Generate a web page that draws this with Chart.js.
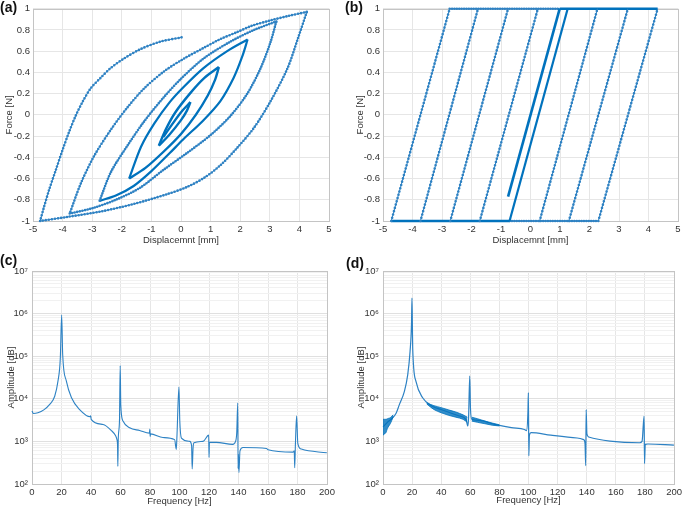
<!DOCTYPE html>
<html>
<head>
<meta charset="utf-8">
<script src="https://cdn.jsdelivr.net/npm/chart.js@4.4.0/dist/chart.umd.min.js"></script>
<style>
  body { margin:0; background:#fff; width:685px; height:509px; position:relative; overflow:hidden; }
  canvas { position:absolute; }
  .tag { position:absolute; font:bold 14px "Liberation Sans", Arial, sans-serif; color:#111; }
</style>
</head>
<body>
<canvas id="chartA" width="340" height="250" style="left:0;top:0"></canvas>
<canvas id="chartB" width="345" height="250" style="left:340px;top:0"></canvas>
<canvas id="chartC" width="340" height="259" style="left:0;top:250px"></canvas>
<canvas id="chartD" width="345" height="259" style="left:340px;top:250px"></canvas>
<div class="tag" style="left:0;top:-1px">(a)</div>
<div class="tag" style="left:345px;top:-1px">(b)</div>
<div class="tag" style="left:0;top:252px">(c)</div>
<div class="tag" style="left:346px;top:255px">(d)</div>
<script>
// ---- (a) hysteresis branches [displacement mm, force N]
const aStart = [[0.02,0.73],[-0.69,0.69],[-1.36,0.62],[-1.93,0.53],[-2.38,0.44],[-2.71,0.35],[-3.05,0.25],[-3.33,0.12],[-3.56,-0.01],[-3.78,-0.16],[-4.0,-0.33],[-4.23,-0.52],[-4.46,-0.71],[-4.63,-0.87],[-4.76,-1.0]];
const aLoop1Up = [[-4.76,-1.0],[-3.8,-0.96],[-2.7,-0.91],[-1.6,-0.84],[-0.5,-0.75],[0.2,-0.68],[0.8,-0.59],[1.35,-0.47],[1.9,-0.31],[2.47,-0.12],[3.03,0.13],[3.6,0.44],[3.95,0.72],[4.25,0.97]];
const aLoop1Down = [[4.25,0.97],[3.6,0.93],[3.03,0.89],[2.4,0.84],[1.9,0.78],[1.3,0.71],[0.76,0.63],[0.1,0.53],[-0.57,0.41],[-1.24,0.25],[-1.81,0.07],[-2.37,-0.14],[-2.94,-0.39],[-3.39,-0.65],[-3.76,-0.93]];
const aLoop2Up = [[-3.76,-0.93],[-3.0,-0.88],[-2.2,-0.8],[-1.4,-0.69],[-0.6,-0.52],[0.2,-0.36],[1.0,-0.19],[1.67,-0.01],[2.24,0.2],[2.69,0.44],[3.03,0.69],[3.22,0.88]];
const aLoop2Down = [[3.22,0.88],[2.47,0.8],[1.67,0.69],[0.76,0.53],[0.0,0.34],[-0.6,0.16],[-1.24,-0.06],[-1.81,-0.29],[-2.37,-0.54],[-2.75,-0.81]];
const aLoop3Up = [[-2.75,-0.81],[-2.2,-0.76],[-1.6,-0.67],[-1.0,-0.53],[-0.38,-0.36],[0.08,-0.23],[0.76,-0.05],[1.33,0.13],[1.78,0.35],[2.07,0.55],[2.25,0.71]];
const aLoop3Down = [[2.25,0.71],[1.56,0.6],[0.76,0.44],[0.08,0.26],[-0.38,0.12],[-0.9,-0.08],[-1.35,-0.3],[-1.75,-0.6]];
const aLoop4Up = [[-1.75,-0.6],[-1.2,-0.5],[-0.6,-0.35],[0.0,-0.18],[0.5,0.0],[0.9,0.18],[1.15,0.33],[1.28,0.45]];
const aLoop4Down = [[1.28,0.45],[0.8,0.35],[0.3,0.2],[-0.2,0.02],[-0.5,-0.13],[-0.75,-0.29]];
const aLoop5Up = [[-0.75,-0.29],[-0.4,-0.19],[0.0,-0.05],[0.2,0.04],[0.32,0.12]];
const aLoop5Down = [[0.32,0.12],[0.05,0.04],[-0.3,-0.09],[-0.6,-0.21]];

// ---- (b) elasto-plastic loops
const bBottomX = [-4.72,-3.73,-2.72,-1.72,-0.71,0.31,1.30,2.30];
const bTopX = [-2.74,-1.78,-0.76,0.25,1.26,2.27,3.30,4.31];
const bStartLine = [[-0.76,-0.77],[0.99,1.0]];
const bTopRun = [-2.74,0.99,4.31];
const bBottomRun = [-4.72,-0.71,2.30];

// ---- (c) spectrum
const cFreq = [0,1,4,8,12,15.4,17.6,19.2,20.1,20.8,23.3,26.7,32.3,39.5,39.8,40.1,48.2,53.8,56.7,57.6,58.0,58.2,58.5,59.3,59.8,60.2,61.7,66.2,73,79.6,79.9,80.1,80.4,88.8,96.7,97.8,98.3,99.6,100.2,101.3,107,108.2,108.6,109.2,109.8,116,119.8,120,120.3,125,136,138,138.8,139.5,139.7,140.0,140.3,141,143,159,160,177,177.8,178.1,178.6,179.4,180.2,182.6,199.9];
const cAmp = [5200,4500,4700,5500,7400,11500,26000,90000,920000,110000,26000,10700,5600,3800,4000,3300,2500,1800,1350,1100,800,260,1200,3000,60000,7000,3000,2100,1800,1560,1950,1300,1500,1230,1100,650,1400,19000,3000,1200,1000,800,225,700,930,1000,1400,420,950,950,850,1000,1600,8000,230,500,186,600,720,680,640,560,600,240,900,4000,900,660,540];

// ---- (d) spectrum (centre line and fuzzy bands)
const dFreq = [0,3,6,9,11.3,14.7,17,18.6,19.6,19.9,20.2,20.4,22.6,27.1,33.9,40,46,52,57,58.3,58.8,59.6,60.1,61,66,76.9,88.2,97.2,98.6,99.6,99.9,100.2,100.6,101.7,115.3,133.4,137.9,138.8,139.3,139.6,140.1,141.3,156,176.3,178,179.4,179.7,180.2,182,199.9];
const dAmp = [2200,2800,3400,4600,7400,15000,37000,130000,600000,2300000,500000,156000,26000,10700,6700,5600,4700,4000,3300,2300,3600,34000,6000,3300,3100,2500,2100,1900,1800,5000,14000,460,1400,1600,1400,1200,1100,900,270,5600,1500,1270,1020,930,1000,3900,300,850,870,820];
const dBand1Freq = [0,1,2,3,4,5,6,7];
const dBand1Hi = [3300,3300,3300,3400,3500,3600,3900,4200];
const dBand1Lo = [1400,1500,1600,2000,2300,2600,3100,3800];
const dBand2Freq = [30,35,40,45,50,55,58];
const dBand2Hi = [8000,6900,6200,5500,4900,4200,3700];
const dBand2Lo = [7600,5600,4700,4100,3700,3300,2800];
const dBand3Freq = [61,65,70,75,80];
const dBand3Hi = [3700,3400,3000,2700,2450];
const dBand3Lo = [3000,2800,2600,2400,2300];

const ampDecades = [1e2,1e3,1e4,1e5,1e6,1e7];

const BLUE = '#0072bd';
const DOT = '#2f82c3';
const THIN = 'rgb(45,130,196)';
const GRID = '#e6e6e6';
const FONT = {family:'"Liberation Sans", Arial, sans-serif', size:9.5};
const TXT = '#333';
const SUP = '⁰¹²³⁴⁵⁶⁷⁸⁹';

function xy(list) { return list.map(p => ({x:p[0], y:p[1]})); }
function pairs(xs, ys) { return xs.map((x, i) => ({x:x, y:ys[i]})); }

function solid(pts, w) {
    return {data:xy(pts), showLine:true, borderColor:BLUE, borderWidth:w, pointRadius:0, tension:0.3, clip:6};
}
// thin line with round dots on top (marker look)
function dotted(pts, gap) {
    return [
        {data:xy(pts), showLine:true, borderColor:DOT, borderWidth:1, pointRadius:0, tension:0.3, clip:6},
        {data:xy(pts), showLine:true, borderColor:DOT, borderWidth:2.6, borderDash:[0,gap], borderCapStyle:'round', pointRadius:0, tension:0.3, clip:6}
    ];
}

// box round the plot area, under the data
const boxPlugin = {
    id:'box',
    beforeDatasetsDraw(chart) {
        const {ctx, chartArea:a} = chart;
        ctx.save();
        ctx.strokeStyle = '#c4c4c4';
        ctx.lineWidth = 1;
        ctx.strokeRect(Math.round(a.left)+0.5, Math.round(a.top)+0.5, Math.round(a.right-a.left), Math.round(a.bottom-a.top));
        ctx.restore();
    }
};

function makeChart(id, type, frame, datasets, xs, ys) {
    const c = document.getElementById(id);
    xs.afterFit = s => { s.height = c.height - frame.bottom; };
    ys.afterFit = s => { s.width = frame.left; };
    return new Chart(c, {
        type:type,
        data:{datasets:datasets},
        options:{
            responsive:false, animation:false, events:[],
            layout:{padding:{left:0, top:frame.top, right:c.width-frame.right, bottom:0}},
            plugins:{legend:{display:false}, tooltip:{enabled:false}},
            scales:{x:xs, y:ys}
        },
        plugins:[boxPlugin]
    });
}

function linAxis(min, max, step, title, titlePad) {
    return {
        type:'linear', position:'left', min:min, max:max,
        ticks:{stepSize:step, font:FONT, color:TXT, padding:3, maxRotation:0, autoSkip:false,
            callback(v) { return String(Number(v.toFixed(2))); }},
        grid:{color:GRID, drawTicks:false},
        border:{display:false},
        title:{display:true, text:title, font:FONT, color:TXT, padding:titlePad}
    };
}
function xAxis(min, max, step, title, titlePad) {
    const a = linAxis(min, max, step, title, titlePad);
    a.position = 'bottom';
    return a;
}

function isDecade(v) {
    const e = Math.round(Math.log10(v));
    return Math.abs(v - Math.pow(10, e)) < 1e-6 * v;
}

function logAxis(title, titlePad) {
    return {
        type:'logarithmic', position:'left', min:ampDecades[0], max:ampDecades[ampDecades.length-1],
        afterBuildTicks(s) {
            const t = [];
            ampDecades.forEach((d, i) => {
                t.push({value:d});
                if (i < ampDecades.length - 1) for (let k = 2; k < 10; k++) t.push({value:d*k});
            });
            s.ticks = t;
        },
        ticks:{font:FONT, color:TXT, padding:4, autoSkip:false,
            callback(v) { return isDecade(v) ? '10' + SUP[Math.round(Math.log10(v))] : ''; }},
        grid:{drawTicks:false, color:c => isDecade(c.tick.value) ? '#e0e0e0' : '#f1f1f1'},
        border:{display:false},
        title:{display:true, text:title, font:FONT, color:TXT, padding:titlePad}
    };
}

// ---- chart (a)
const dsA = [].concat(
    dotted(aStart, 3.2),
    dotted(aLoop1Up, 3.0),
    dotted(aLoop1Down, 3.0),
    dotted(aLoop2Up, 2.6),
    dotted(aLoop2Down, 2.6),
    [solid(aLoop3Up, 2.2), solid(aLoop3Down, 2.2), solid(aLoop4Up, 2.4), solid(aLoop4Down, 2.4), solid(aLoop5Up, 2.4), solid(aLoop5Down, 2.4)]
);
makeChart('chartA', 'scatter', {left:33, right:329, top:6, bottom:221}, dsA,
    xAxis(-5, 5, 1, 'Displacemnt [mm]', {top:0, bottom:4}),
    linAxis(-1, 1, 0.2, 'Force [N]', {top:4, bottom:0}));

// ---- chart (b)
const dsB = [];
bBottomX.forEach((bx, i) => {
    const seg = [[bx,-1],[bTopX[i],1]];
    if (i === 4) dsB.push(solid(seg, 2.2));
    else dsB.push(...dotted(seg, 3.4));
});
dsB.push(solid(bStartLine, 2.6));
dsB.push(...dotted([[bTopRun[0],1],[bTopRun[1],1]], 2.4));
dsB.push(solid([[bTopRun[1],1],[bTopRun[2],1]], 2.6));
dsB.push(solid([[bBottomRun[0],-1],[bBottomRun[1],-1]], 2.6));
dsB.push(...dotted([[bBottomRun[1],-1],[bBottomRun[2],-1]], 2.4));
dsB.forEach(d => { d.tension = 0; });
makeChart('chartB', 'scatter', {left:43, right:338, top:6, bottom:221}, dsB,
    xAxis(-5, 5, 1, 'Displacemnt [mm]', {top:0, bottom:4}),
    linAxis(-1, 1, 0.2, 'Force [N]', {top:15, bottom:0}));

// ---- chart (c)
function specLine(data, w) {
    return {data:data, borderColor:THIN, borderWidth:w, pointRadius:0, cubicInterpolationMode:'monotone', fill:false, clip:4};
}
function band(freq, hi, lo) {
    return [
        {data:pairs(freq, hi), borderColor:BLUE, backgroundColor:'rgba(0,114,189,0.8)', borderWidth:0.8, pointRadius:0, fill:'+1', cubicInterpolationMode:'monotone'},
        {data:pairs(freq, lo), borderColor:BLUE, borderWidth:0.8, pointRadius:0, fill:false, cubicInterpolationMode:'monotone'}
    ];
}
makeChart('chartC', 'line', {left:32, right:327, top:21, bottom:234},
    [specLine(pairs(cFreq, cAmp), 1.1)],
    xAxis(0, 200, 20, 'Frequency [Hz]', {top:0, bottom:2}),
    logAxis('Amplitude [dB]', {top:6, bottom:0}));

// ---- chart (d)
const dsD = [].concat(
    band(dBand1Freq, dBand1Hi, dBand1Lo),
    band(dBand2Freq, dBand2Hi, dBand2Lo),
    band(dBand3Freq, dBand3Hi, dBand3Lo),
    [specLine(pairs(dFreq, dAmp), 1.2)]
);
makeChart('chartD', 'line', {left:43, right:338, top:21, bottom:234}, dsD,
    xAxis(0, 200, 20, 'Frequency [Hz]', {top:0, bottom:3}),
    logAxis('Amplitude [dB]', {top:16, bottom:0}));
</script>
</body>
</html>
